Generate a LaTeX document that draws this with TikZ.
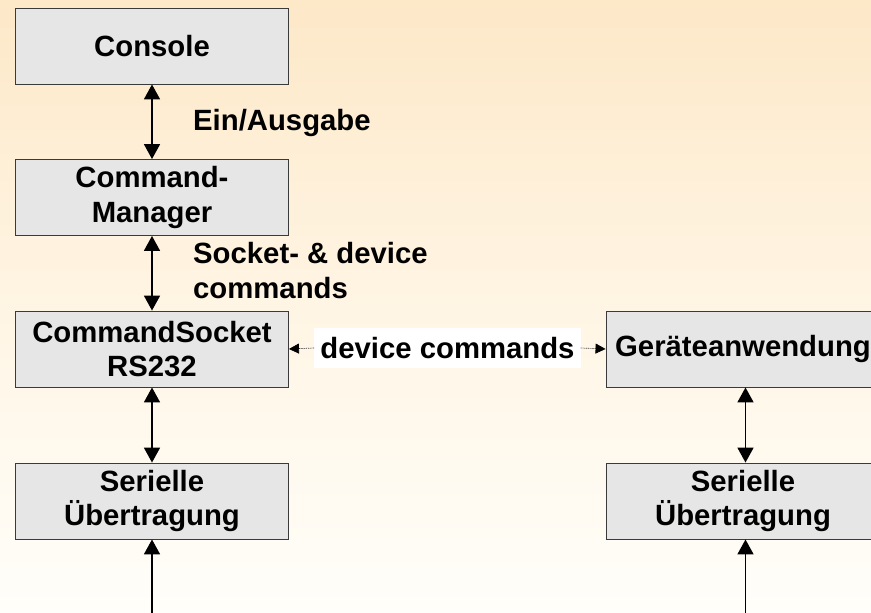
\documentclass[tikz,border=0pt]{standalone}
\usepackage{fontspec}
\setmainfont{Liberation Sans}
\usetikzlibrary{arrows.meta}
\definecolor{boxfill}{HTML}{E6E6E6}
\definecolor{boxline}{HTML}{3A3A3A}
\definecolor{bgtop}{HTML}{FDE8C8}
\definecolor{bgmid}{HTML}{FFF5E4}
\definecolor{bgbot}{HTML}{FFFEFA}
\tikzset{
  block/.style={draw=boxline, line width=0.9pt, fill=boxfill, minimum width=273pt,
    minimum height=76pt, inner sep=0pt, align=center},
  link/.style={line width=1.8pt, {Triangle[length=15pt,width=16pt]}-{Triangle[length=15pt,width=16pt]}},
  uplink/.style={line width=1.8pt, -{Triangle[length=15pt,width=16pt]}},
  dotlink/.style={line width=0.7pt, draw=black!75, dash pattern=on 1pt off 0.8pt},
  lbl/.style={inner sep=0pt, align=left}
}
\begin{document}
\begin{tikzpicture}[x=1pt, y=-1pt, font=\fontsize{29.3}{34.5}\selectfont\bfseries]
  % page and background
  \useasboundingbox (0,0) rectangle (871,613);
  \shade[top color=bgtop, bottom color=bgbot, middle color=bgmid] (0,0) rectangle (871,613);

  % left column
  \node[block] (con) at (152,46) {Console};
  \node[block] (man) at (152,197.5) {Command-\\Manager};
  \node[block] (sock) at (152,349) {CommandSocket\\RS232};
  \node[block] (serl) at (152,501) {Serielle\\Übertragung};

  % right column
  \node[block, minimum width=274pt] (ger) at (743,349) {Geräteanwendung};
  \node[block, minimum width=274pt] (serr) at (743,501) {Serielle\\Übertragung};

  % vertical connections
  \draw[link] (con) -- (man);
  \draw[link] (man) -- (sock);
  \draw[link] (sock) -- (serl);
  \draw[link] (ger.south -| 745.5,0) -- (serr.north -| 745.5,0);
  \coordinate (inl) at (152,613);
  \coordinate (inr) at (745.5,613);
  \draw[uplink] (inl) -- (serl);
  \draw[uplink] (inr) -- (serr.south -| inr);

  % link labels
  \node[lbl, anchor=base west] (lea) at (193,130) {Ein/Ausgabe};
  \node[lbl, anchor=base west] (lsd) at (193,298) {Socket- \& device\\commands};

  % device command channel
  \node[fill=white, inner xsep=6pt, inner ysep=0pt, minimum height=40pt] (ldc) at (447.5,348) {device commands};
  \draw[dotlink, {Triangle[length=10pt,width=10pt,color=black]}-] (sock.east) -- (ldc.west);
  \draw[dotlink, -{Triangle[length=10pt,width=10pt,color=black]}] (ldc.east) -- (ger.west);
\end{tikzpicture}
\end{document}
